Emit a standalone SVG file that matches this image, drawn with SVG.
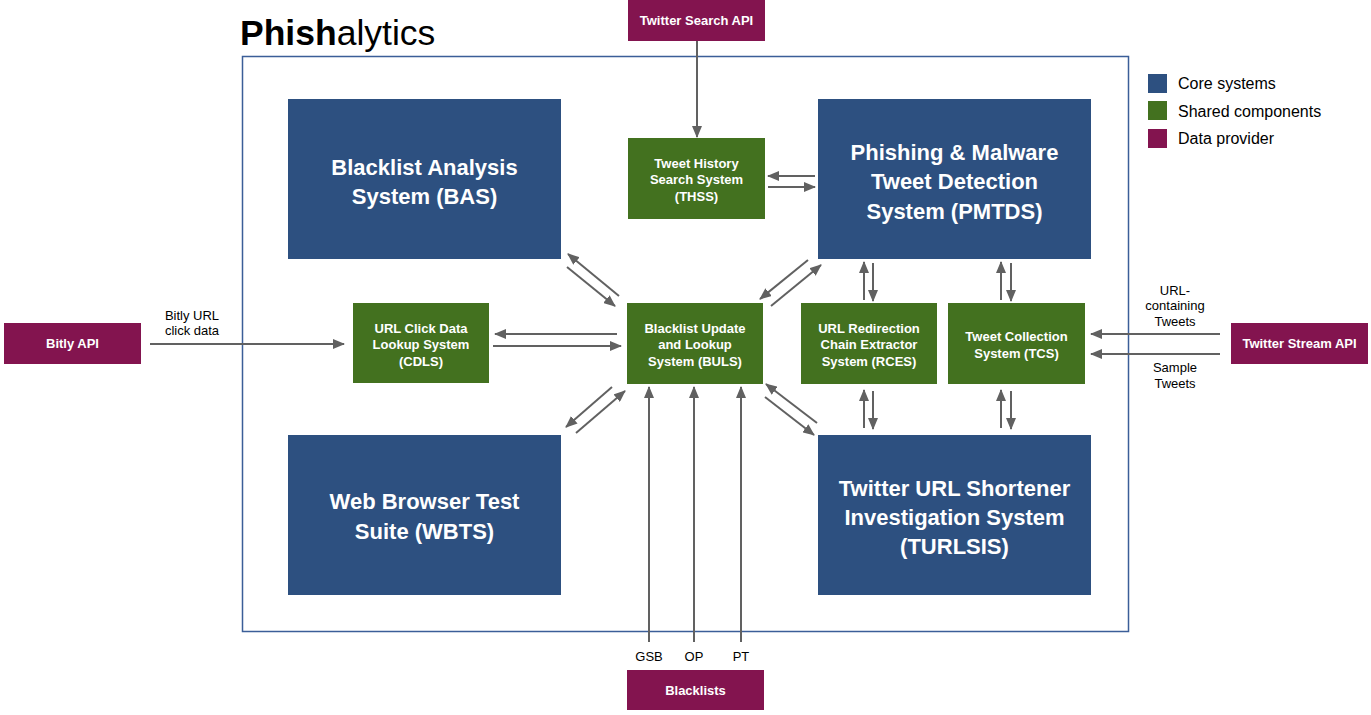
<svg xmlns="http://www.w3.org/2000/svg" width="1371" height="715" viewBox="0 0 1371 715">
<defs>
<marker id="ah" markerUnits="userSpaceOnUse" markerWidth="12" markerHeight="10" refX="11" refY="5" orient="auto">
<path d="M0,0 L12,5 L0,10 Z" fill="#616161"/>
</marker>
<style>
.core{fill:#2d5080}
.shared{fill:#43711f}
.prov{fill:#83144f}
.ct{font-family:"Liberation Sans",Arial,sans-serif;font-weight:bold;font-size:22px;fill:#fff;text-anchor:middle}
.st{font-family:"Liberation Sans",Arial,sans-serif;font-weight:bold;font-size:13px;fill:#fff;text-anchor:middle}
.lbl{font-family:"Liberation Sans",Arial,sans-serif;font-size:13px;fill:#000;text-anchor:middle}
.leg{font-family:"Liberation Sans",Arial,sans-serif;font-size:16px;fill:#000}
.c line{stroke:#616161;stroke-width:2;marker-end:url(#ah)}
</style>
</defs>
<rect width="1371" height="715" fill="#fff"/>
<text x="240" y="45" font-family="Liberation Sans,Arial,sans-serif" font-size="35.5" fill="#000"><tspan font-weight="bold">Phish</tspan>alytics</text>
<rect id="frame" x="242.5" y="56.5" width="886" height="575" fill="none" stroke="#3b5e98" stroke-width="1.5"/>

<g id="legend">
<rect x="1148" y="74" width="19" height="19" class="core"/>
<text x="1178" y="89" class="leg">Core systems</text>
<rect x="1148" y="101" width="19" height="19" class="shared"/>
<text x="1178" y="117" class="leg">Shared components</text>
<rect x="1148" y="129" width="19" height="19" class="prov"/>
<text x="1178" y="144" class="leg">Data provider</text>
</g>

<g id="bas"><rect x="288" y="99" width="273" height="160" class="core"/>
<text class="ct" x="424.5" y="175">Blacklist Analysis</text><text class="ct" x="424.5" y="204">System (BAS)</text></g>
<g id="pmtds"><rect x="818" y="99" width="273" height="160" class="core"/>
<text class="ct" x="954.5" y="160">Phishing &amp; Malware</text><text class="ct" x="954.5" y="189">Tweet Detection</text><text class="ct" x="954.5" y="219">System (PMTDS)</text></g>
<g id="wbts"><rect x="288" y="435" width="273" height="160" class="core"/>
<text class="ct" x="424.5" y="509">Web Browser Test</text><text class="ct" x="424.5" y="539">Suite (WBTS)</text></g>
<g id="turlsis"><rect x="818" y="435" width="273" height="160" class="core"/>
<text class="ct" x="954.5" y="496">Twitter URL Shortener</text><text class="ct" x="954.5" y="525">Investigation System</text><text class="ct" x="954.5" y="554">(TURLSIS)</text></g>

<g id="thss"><rect x="628" y="138" width="137" height="81" class="shared"/>
<text class="st" x="696.5" y="168">Tweet History</text><text class="st" x="696.5" y="184">Search System</text><text class="st" x="696.5" y="201">(THSS)</text></g>
<g id="cdls"><rect x="353" y="303" width="136" height="80" class="shared"/>
<text class="st" x="421" y="333">URL Click Data</text><text class="st" x="421" y="349">Lookup System</text><text class="st" x="421" y="366">(CDLS)</text></g>
<g id="buls"><rect x="627" y="303" width="136" height="81" class="shared"/>
<text class="st" x="695" y="333">Blacklist Update</text><text class="st" x="695" y="349">and Lookup</text><text class="st" x="695" y="366">System (BULS)</text></g>
<g id="rces"><rect x="801" y="303" width="136" height="81" class="shared"/>
<text class="st" x="869" y="333">URL Redirection</text><text class="st" x="869" y="349">Chain Extractor</text><text class="st" x="869" y="366">System (RCES)</text></g>
<g id="tcs"><rect x="948" y="303" width="137" height="81" class="shared"/>
<text class="st" x="1016.5" y="341">Tweet Collection</text><text class="st" x="1016.5" y="358">System (TCS)</text></g>

<g id="twsearch"><rect x="628" y="0" width="137" height="41" class="prov"/><text class="st" x="696.5" y="25">Twitter Search API</text></g>
<g id="bitly"><rect x="4" y="323" width="137" height="41" class="prov"/><text class="st" x="72.5" y="348">Bitly API</text></g>
<g id="twstream"><rect x="1231" y="323" width="137" height="41" class="prov"/><text class="st" x="1299.5" y="348">Twitter Stream API</text></g>
<g id="blacklists"><rect x="627" y="670" width="137" height="40" class="prov"/><text class="st" x="695.5" y="695">Blacklists</text></g>

<g id="connectors" class="c">
<line x1="697" y1="41" x2="697" y2="137"/>
<line x1="815" y1="176" x2="768" y2="176"/>
<line x1="768" y1="187" x2="815" y2="187"/>
<line x1="619" y1="296" x2="568" y2="254"/>
<line x1="567" y1="267" x2="615" y2="306"/>
<line x1="808" y1="260" x2="760" y2="299"/>
<line x1="771" y1="306" x2="821" y2="265"/>
<line x1="612" y1="387" x2="566" y2="427"/>
<line x1="576" y1="433" x2="625" y2="391"/>
<line x1="817" y1="423" x2="766" y2="384"/>
<line x1="765" y1="397" x2="814" y2="435"/>
<line x1="617" y1="334" x2="495" y2="334"/>
<line x1="493" y1="346" x2="621" y2="346"/>
<line x1="150" y1="344" x2="344" y2="344"/>
<line x1="649" y1="642" x2="649" y2="387"/>
<line x1="694" y1="642" x2="694" y2="387"/>
<line x1="741" y1="642" x2="741" y2="387"/>
<line x1="864" y1="300" x2="864" y2="262"/>
<line x1="873" y1="263" x2="873" y2="301"/>
<line x1="864" y1="428" x2="864" y2="390"/>
<line x1="873" y1="391" x2="873" y2="429"/>
<line x1="1001" y1="300" x2="1001" y2="262"/>
<line x1="1011" y1="263" x2="1011" y2="301"/>
<line x1="1001" y1="428" x2="1001" y2="390"/>
<line x1="1011" y1="391" x2="1011" y2="429"/>
<line x1="1220" y1="334" x2="1091" y2="334"/>
<line x1="1220" y1="354" x2="1091" y2="354"/>
</g>

<g id="labels">
<text class="lbl" x="192" y="320">Bitly URL</text><text class="lbl" x="192" y="335">click data</text>
<text class="lbl" x="1175" y="295">URL-</text><text class="lbl" x="1175" y="310">containing</text><text class="lbl" x="1175" y="326">Tweets</text>
<text class="lbl" x="1175" y="372">Sample</text><text class="lbl" x="1175" y="388">Tweets</text>
<text class="lbl" x="649" y="661">GSB</text><text class="lbl" x="694" y="661">OP</text><text class="lbl" x="741" y="661">PT</text>
</g>
</svg>
